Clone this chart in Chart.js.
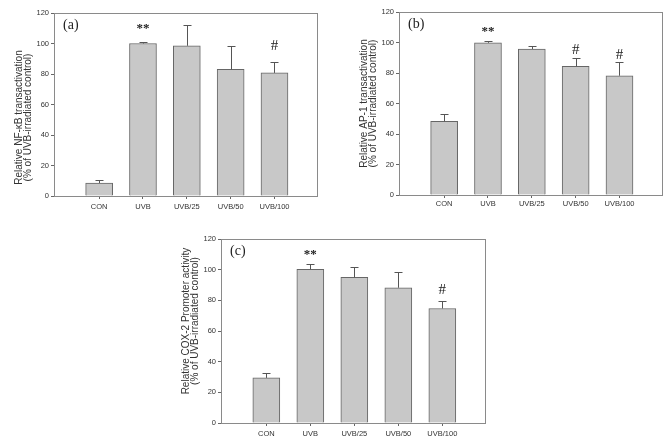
<!DOCTYPE html>
<html>
<head>
<meta charset="utf-8">
<script src="https://cdn.jsdelivr.net/npm/chart.js@4.4.1/dist/chart.umd.min.js"></script>
<style>
  body { margin: 0; background: #fff; }
  #wrap { position: relative; width: 666px; height: 440px; overflow: hidden; }
  canvas { position: absolute; }
</style>
</head>
<body>
<div id="wrap">
  <canvas id="graficoA" width="333" height="222" style="left:0;top:0"></canvas>
  <canvas id="graficoB" width="333" height="222" style="left:333px;top:0"></canvas>
  <canvas id="graficoC" width="340" height="215" style="left:160px;top:225px"></canvas>
</div>
<script>
const categories = ['CON', 'UVB', 'UVB/25', 'UVB/50', 'UVB/100'];
const yTicks = [0, 20, 40, 60, 80, 100, 120];

// (a) NF-kB
const nfkbValues = [8.5, 100, 98.5, 83, 80.7];
const nfkbErrors = [1.9, 1.3, 13.9, 15.3, 7.3];
const nfkbMarks = ['', '**', '', '', '#'];
const nfkbMarkY = [0, 112, 0, 0, 98];

// (b) AP-1
const ap1Values = [48.3, 99.8, 95.7, 84.4, 78.2];
const ap1Errors = [5, 1.2, 2.3, 5.2, 9.2];
const ap1Marks = ['', '**', '', '#', '#'];
const ap1MarkY = [0, 109, 0, 95, 92];

// (c) COX-2
const coxValues = [29.4, 100.2, 95, 88.2, 74.7];
const coxErrors = [3.1, 3.2, 6.7, 10.3, 4.6];
const coxMarks = ['', '**', '', '', '#'];
const coxMarkY = [0, 112, 0, 0, 87];

// desenha caixa, barras de erro, letras e titulo do eixo y
const decoracao = {
  id: 'decoracao',
  afterDatasetsDraw(chart, args, opts) {
    const ctx = chart.ctx;
    const area = chart.chartArea;
    const sx = chart.scales.x;
    const sy = chart.scales.y;
    ctx.save();

    // barras de erro
    ctx.strokeStyle = '#555';
    ctx.lineWidth = 1;
    opts.values.forEach((v, i) => {
      const x = Math.round(sx.getPixelForValue(i)) + 0.5;
      const y0 = sy.getPixelForValue(v);
      const y1 = Math.round(sy.getPixelForValue(v + opts.errors[i])) + 0.5;
      ctx.beginPath();
      ctx.moveTo(x, y0);
      ctx.lineTo(x, y1);
      ctx.moveTo(x - 4, y1);
      ctx.lineTo(x + 4, y1);
      ctx.stroke();
    });

    // caixa em volta
    ctx.strokeStyle = '#8a8a8a';
    ctx.strokeRect(Math.round(area.left) + 0.5, Math.round(area.top) + 0.5,
      Math.round(area.right - area.left), Math.round(area.bottom - area.top));

    // marcas de significancia
    ctx.fillStyle = '#222';
    ctx.textAlign = 'center';
    ctx.textBaseline = 'middle';
    opts.marks.forEach((m, i) => {
      if (!m) return;
      const x = sx.getPixelForValue(i);
      const y = sy.getPixelForValue(opts.markY[i]);
      if (m === '#') {
        ctx.font = '15px "Liberation Serif"';
        ctx.fillText(m, x, y);
      } else {
        ctx.font = 'bold 13px "Liberation Serif"';
        ctx.fillText(m, x, y + 3);
      }
    });

    // letra do painel
    ctx.font = '14px "Liberation Serif"';
    ctx.textAlign = 'left';
    ctx.fillText(opts.letter, area.left + 9, area.top + 12);

    // titulo do eixo y
    ctx.fillStyle = '#333';
    ctx.font = '10px "Liberation Sans"';
    ctx.textAlign = 'center';
    ctx.translate(area.left, (area.top + area.bottom) / 2 + opts.titleShift);
    ctx.rotate(-Math.PI / 2);
    ctx.fillText(opts.title[0], 0, -35);
    ctx.fillText(opts.title[1], 0, -26);
    ctx.restore();
  }
};

function desenhaGrafico(id, valores, erros, marcas, marcasY, letra, titulo, lay) {
  const ctx = document.getElementById(id).getContext('2d');
  return new Chart(ctx, {
    type: 'bar',
    data: {
      datasets: [{
        data: valores.map((v, i) => ({ x: i, y: v })),
        backgroundColor: '#c8c8c8',
        borderColor: '#666',
        borderWidth: 1,
        barThickness: 27,
      }],
    },
    options: {
      responsive: false,
      animation: false,
      layout: { padding: { top: lay.top, right: lay.right, left: 0, bottom: 0 } },
      plugins: {
        legend: { display: false },
        tooltip: { enabled: false },
        decoracao: {
          values: valores, errors: erros, marks: marcas, markY: marcasY,
          letter: letra, title: titulo, titleShift: lay.titleShift,
        },
      },
      scales: {
        x: {
          type: 'linear',
          offset: false,
          min: -1.03,
          max: 4.97,
          afterBuildTicks: (s) => { s.ticks = categories.map((c, i) => ({ value: i })); },
          afterFit: (s) => { s.height = lay.xHeight; },
          ticks: {
            autoSkip: false,
            maxRotation: 0,
            padding: lay.xPad,
            color: '#333',
            font: { family: 'Liberation Sans', size: 7.5 },
            callback: (v) => categories[v],
          },
          grid: { drawOnChartArea: false, offset: false, tickLength: 3, color: '#666' },
          border: { color: '#8a8a8a' },
        },
        y: {
          min: 0,
          max: 120,
          afterBuildTicks: (s) => { s.ticks = yTicks.map(v => ({ value: v })); },
          afterFit: (s) => { s.width = lay.yWidth; },
          ticks: {
            padding: 2,
            color: '#333',
            font: { family: 'Liberation Sans', size: 7.5 },
          },
          grid: { drawOnChartArea: false, tickLength: 3, color: '#666' },
          border: { color: '#8a8a8a' },
        },
      },
    },
    plugins: [decoracao],
  });
}

desenhaGrafico('graficoA', nfkbValues, nfkbErrors, nfkbMarks, nfkbMarkY, '(a)',
  ['Relative NF-\u03BAB transactivation', '(% of UVB-irradiated control)'],
  { top: 13, right: 16, yWidth: 54, xHeight: 26, xPad: 3, titleShift: 13 });

desenhaGrafico('graficoB', ap1Values, ap1Errors, ap1Marks, ap1MarkY, '(b)',
  ['Relative AP-1 transactivation', '(% of UVB-irradiated control)'],
  { top: 12, right: 4, yWidth: 66, xHeight: 27, xPad: 1, titleShift: 0 });

desenhaGrafico('graficoC', coxValues, coxErrors, coxMarks, coxMarkY, '(c)',
  ['Relative COX-2 Promoter activity', '(% of UVB-irradiated control)'],
  { top: 14, right: 15, yWidth: 61, xHeight: 17, xPad: 3, titleShift: -10 });
</script>
</body>
</html>
